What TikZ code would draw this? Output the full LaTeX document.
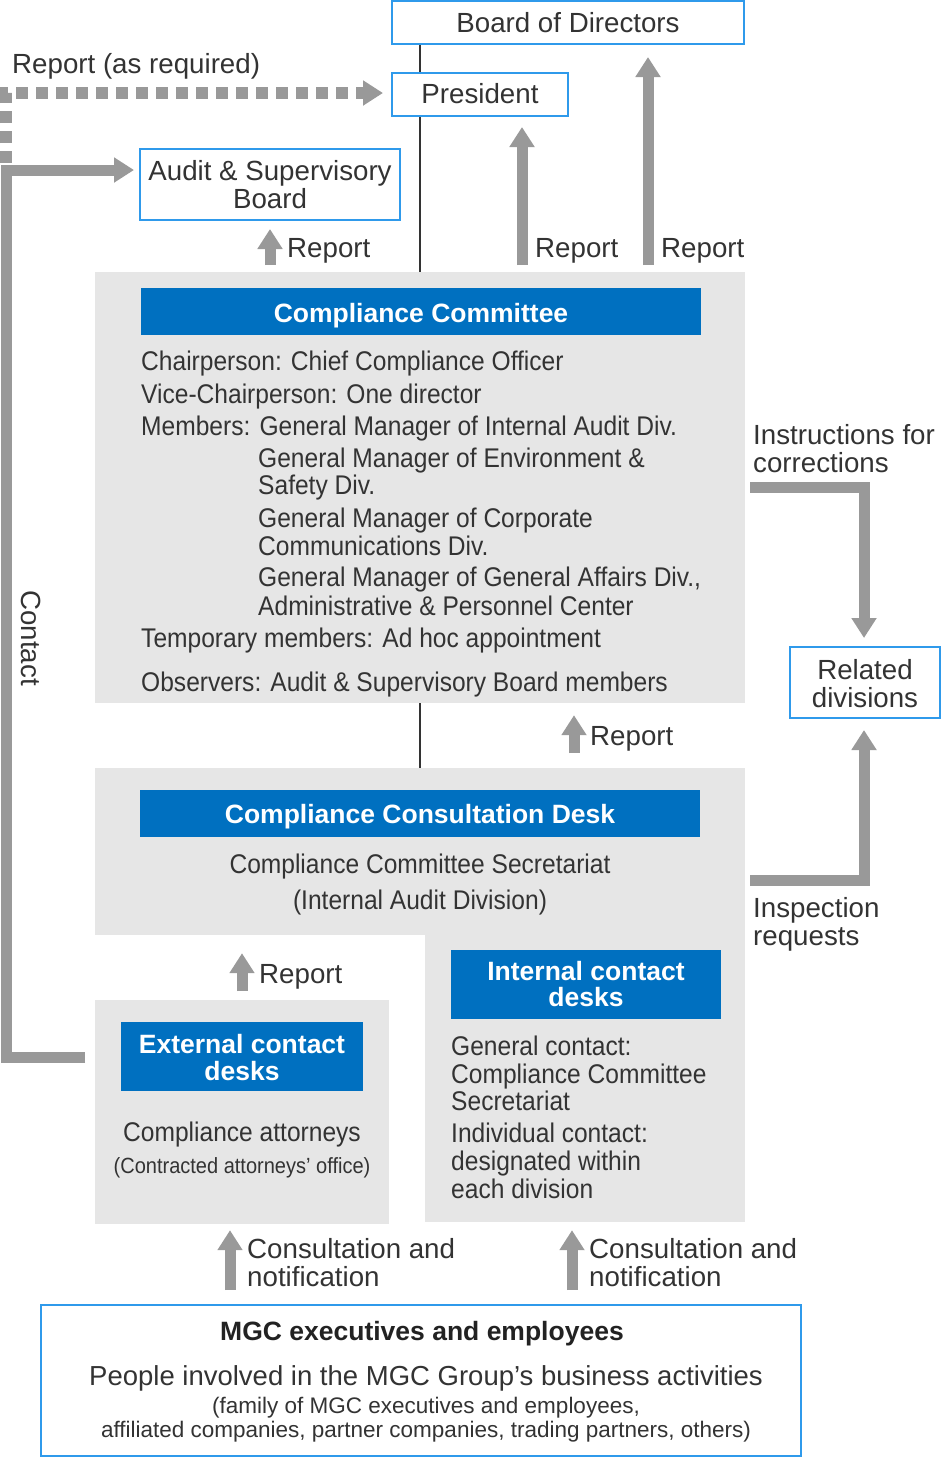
\documentclass[tikz,border=0pt]{standalone}
\usepackage{fontspec}
\setmainfont{Liberation Sans}
\newfontfamily\condfont[FakeStretch=0.91]{Liberation Sans}
\usetikzlibrary{arrows.meta}
\definecolor{txt}{HTML}{333333}
\definecolor{dark}{HTML}{222222}
\definecolor{bluebar}{HTML}{0070C0}
\definecolor{blueline}{HTML}{2F9AEB}
\definecolor{panel}{HTML}{E6E6E6}
\definecolor{arrowgray}{HTML}{999999}
\tikzset{
  reg/.style={font=\fontsize{27.7}{28}\selectfont, text=txt, inner sep=0},
  regw/.style={reg, anchor=base west},
  regc/.style={reg, anchor=base},
  cond/.style={font=\condfont\fontsize{27}{28}\selectfont, text=txt, inner sep=0, anchor=base west},
  condc/.style={font=\condfont\fontsize{27}{28}\selectfont, text=txt, inner sep=0, anchor=base},
  small/.style={font=\fontsize{22.5}{24}\selectfont, text=txt, inner sep=0, anchor=base},
  smallcond/.style={font=\condfont\fontsize{22}{24}\selectfont, text=txt, inner sep=0, anchor=base},
  titletext/.style={font=\bfseries\fontsize{26.5}{27}\selectfont, text=white, inner sep=0, anchor=base},
  boldtext/.style={font=\bfseries\fontsize{26.5}{27}\selectfont, text=dark, inner sep=0, anchor=base},
  bluebox/.style={draw=blueline, line width=2pt, fill=white, inner sep=0},
  bar/.style={fill=bluebar, inner sep=0},
  panelbox/.style={fill=panel, inner sep=0},
  bigarrow/.style={draw=arrowgray, line width=11pt, line join=miter,
    -{Triangle[width=24pt,length=20pt]}},
  dotarrow/.style={draw=arrowgray, line width=12pt, dash pattern=on 12pt off 8pt,
    -{Triangle[width=24pt,length=20pt]}},
  spineline/.style={draw=txt, line width=1.8pt},
}
\begin{document}
\begin{tikzpicture}[x=1pt,y=-1pt]
\useasboundingbox (0,0) rectangle (946,1460);

% ---------- panels ----------
\node[panelbox, minimum width=650pt, minimum height=431pt] (committee) at (420,487.5) {};
\node[panelbox, minimum width=650pt, minimum height=167pt] (consult) at (420,851.5) {};
\node[panelbox, minimum width=320pt, minimum height=292pt] (internal) at (585,1076) {};
\node[panelbox, minimum width=294pt, minimum height=224pt] (external) at (242,1112) {};

% ---------- spine ----------
\coordinate (spine) at (420,0);

% ---------- boxes ----------
\node[bluebox, minimum width=352pt, minimum height=43pt] (board) at (568,22.5) {};
\node[bluebox, minimum width=176pt, minimum height=43pt] (president) at (480,94.5) {};
\node[bluebox, minimum width=260pt, minimum height=71pt] (audit) at (270,184.5) {};
\node[bluebox, minimum width=150pt, minimum height=71pt] (related) at (865,682.5) {};
\node[bluebox, minimum width=760pt, minimum height=151pt] (mgc) at (421,1380.5) {};

\draw[spineline] (board.south -| spine) -- (president.north -| spine);
\draw[spineline] (president.south -| spine) -- (committee.north -| spine);
\draw[spineline] (committee.south -| spine) -- (consult.north -| spine);

% ---------- bars ----------
\node[bar, minimum width=560pt, minimum height=47pt] (ccbar) at (421,311.5) {};
\node[bar, minimum width=560pt, minimum height=47pt] (cdbar) at (420,813.5) {};
\node[bar, minimum width=270pt, minimum height=69pt] (intbar) at (586,984.5) {};
\node[bar, minimum width=242pt, minimum height=69pt] (extbar) at (242,1056.5) {};

% ---------- box texts ----------
\node[regc] (tboard) at (568,32) {Board of Directors};
\node[regc] (tpres) at (480,103) {President};
\node[regc] (taud1) at (270,180) {Audit \& Supervisory};
\node[regc] (taud2) at (270,208) {Board};
\node[regc] (trel1) at (865,679) {Related};
\node[regc] (trel2) at (865,707) {divisions};

\node[titletext] (tcc) at (421,322) {Compliance Committee};
\node[titletext] (tcd) at (420,823) {Compliance Consultation Desk};
\node[titletext] (tint1) at (586,980) {Internal contact};
\node[titletext] (tint2) at (586,1006) {desks};
\node[titletext] (text1) at (242,1053) {External contact};
\node[titletext] (text2) at (242,1080) {desks};

% committee body
\node[cond] (c1) at (141,370) {Chairperson: Chief Compliance Officer};
\node[cond] (c2) at (141,403) {Vice-Chairperson: One director};
\node[cond] (c3) at (141,435) {Members: General Manager of Internal Audit Div.};
\node[cond] (c4) at (258,467) {General Manager of Environment \&};
\node[cond] (c5) at (258,494) {Safety Div.};
\node[cond] (c6) at (258,527) {General Manager of Corporate};
\node[cond] (c7) at (258,555) {Communications Div.};
\node[cond] (c8) at (258,586) {General Manager of General Affairs Div.,};
\node[cond] (c9) at (258,615) {Administrative \& Personnel Center};
\node[cond] (c10) at (141,647) {Temporary members: Ad hoc appointment};
\node[cond] (c11) at (141,691) {Observers: Audit \& Supervisory Board members};

% consultation desk body
\node[condc] (d1) at (420,873) {Compliance Committee Secretariat};
\node[condc] (d2) at (420,909) {(Internal Audit Division)};

% internal desk body
\node[cond] (i1) at (451,1055) {General contact:};
\node[cond] (i2) at (451,1083) {Compliance Committee};
\node[cond] (i3) at (451,1110) {Secretariat};
\node[cond] (i4) at (451,1142) {Individual contact:};
\node[cond] (i5) at (451,1170) {designated within};
\node[cond] (i6) at (451,1198) {each division};

% external desk body
\node[condc] (e1) at (242,1141) {Compliance attorneys};
\node[smallcond] (e2) at (242,1173) {(Contracted attorneys’ office)};

% MGC box
\node[boldtext] (m1) at (422,1340) {MGC executives and employees};
\node[regc, font=\fontsize{27.5}{28}\selectfont] (m2) at (426,1385) {People involved in the MGC Group’s business activities};
\node[small] (m3) at (426,1413) {(family of MGC executives and employees,};
\node[small] (m4) at (426,1437) {affiliated companies, partner companies, trading partners, others)};

% ---------- arrows ----------
\coordinate (dotstart) at (6,163);
\coordinate (dottip) at (383,93);
\draw[dotarrow] (dotstart) |- (dottip);
\node[regw] (lreq) at (12,73) {Report (as required)};

\coordinate (conend) at (85,1057);
\coordinate (concorner) at (6,1057);
\coordinate (contip) at (134,170);
\draw[bigarrow] (conend) -- (concorner) |- (contip);
\node[reg, rotate=-90] (lcontact) at (31,638) {Contact};

\coordinate (ra1) at (270,265);
\draw[bigarrow] (ra1) -- ([yshift=-8pt]audit.south -| ra1);
\node[regw] (lr1) at (287,257) {Report};

\coordinate (ra2) at (522,265);
\draw[bigarrow] (ra2) -- ([yshift=-10pt]president.south -| ra2);
\node[regw] (lr2) at (535,257) {Report};

\coordinate (ra3) at (648,265);
\draw[bigarrow] (ra3) -- ([yshift=-12pt]board.south -| ra3);
\node[regw] (lr3) at (661,257) {Report};

\coordinate (insstart) at (750,487);
\coordinate (instip) at (864,638);
\draw[bigarrow] (insstart) -| (instip);
\node[regw] (lins1) at (753,444) {Instructions for};
\node[regw] (lins2) at (753,472) {corrections};

\coordinate (inspstart) at (750,880);
\coordinate (insptip) at (864,730);
\draw[bigarrow] (inspstart) -| (insptip);
\node[regw] (linsp1) at (753,917) {Inspection};
\node[regw] (linsp2) at (753,945) {requests};

\coordinate (ra4) at (574,753);
\draw[bigarrow] (ra4) -- ([yshift=-12pt]committee.south -| ra4);
\node[regw] (lr4) at (590,745) {Report};

\coordinate (ra5) at (242,991);
\draw[bigarrow] (ra5) -- ([yshift=-18pt]consult.south -| ra5);
\node[regw] (lr5) at (259,983) {Report};

\coordinate (ca1) at (230,1290);
\draw[bigarrow] (ca1) -- ([yshift=-6pt]external.south -| ca1);
\node[regw] (lc1a) at (247,1258) {Consultation and};
\node[regw] (lc1b) at (247,1286) {notification};

\coordinate (ca2) at (572,1290);
\draw[bigarrow] (ca2) -- ([yshift=-8pt]internal.south -| ca2);
\node[regw] (lc2a) at (589,1258) {Consultation and};
\node[regw] (lc2b) at (589,1286) {notification};
\end{tikzpicture}
\end{document}
